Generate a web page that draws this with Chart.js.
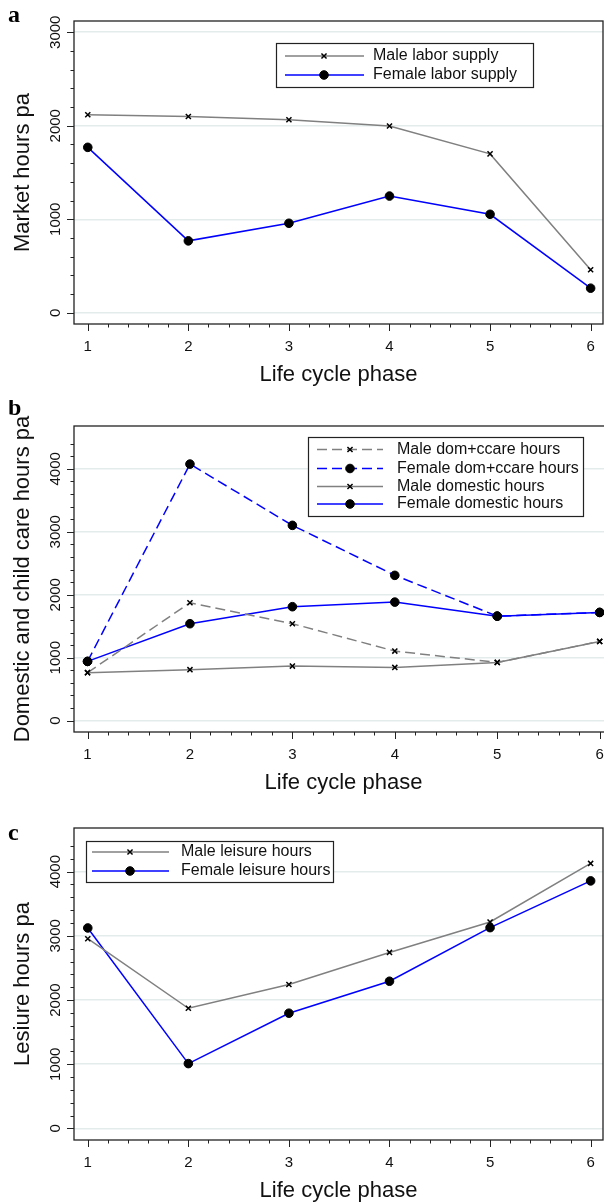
<!DOCTYPE html>
<html><head><meta charset="utf-8">
<script src="https://cdn.jsdelivr.net/npm/chart.js@4.4.1/dist/chart.umd.min.js"></script>
<style>
html,body{margin:0;padding:0;background:#fff;overflow:hidden;width:604px;height:1202px;position:relative;}
canvas{position:absolute;left:0;}
</style></head><body>
<canvas id="ca" width="604" height="400" style="top:0px;width:604px;height:400px"></canvas>
<canvas id="cb" width="620" height="400" style="top:400px;width:620px;height:400px"></canvas>
<canvas id="cc" width="604" height="402" style="top:800px;width:604px;height:402px"></canvas>
<script>
// ---- data ----
const phases = [1, 2, 3, 4, 5, 6];
const xTickLabels = ['1', '2', '3', '4', '5', '6'];
const maleLabor = [2117, 2099, 2064, 1997, 1699, 460];
const femaleLabor = [1769, 769, 957, 1248, 1053, 263];
const maleDomCcare = [762, 1873, 1540, 1105, 925, 1259];
const femaleDomCcare = [941, 4075, 3102, 2308, 1660, 1719];
const maleDomestic = [762, 810, 867, 846, 925, 1259];
const femaleDomestic = [941, 1540, 1810, 1883, 1660, 1719];
const maleLeisure = [2955, 1872, 2242, 2742, 3216, 4128];
const femaleLeisure = [3123, 1010, 1795, 2293, 3128, 3856];
const yTicksA = [0, 1000, 2000, 3000];
const yTicksB = [0, 1000, 2000, 3000, 4000];
const yTicksC = [0, 1000, 2000, 3000, 4000];

const FONT = '"Liberation Sans", Arial, Helvetica, sans-serif';
const GRAY = '#808080', BLUE = '#0000ff';

function pts(vals) { return phases.map((p, i) => ({ x: p, y: vals[i] })); }
function maleDs(label, vals, dash) {
  return { label, data: pts(vals), borderColor: GRAY, borderWidth: 1.5, borderDash: dash || [],
    pointStyle: 'crossRot', pointRadius: 3.6, pointBorderColor: '#000', pointBackgroundColor: '#000',
    pointBorderWidth: 1.5, tension: 0, fill: false };
}
function femaleDs(label, vals, dash) {
  return { label, data: pts(vals), borderColor: BLUE, borderWidth: 1.5, borderDash: dash || [],
    pointStyle: 'circle', pointRadius: 4.3, pointBorderColor: '#000', pointBackgroundColor: '#000',
    pointBorderWidth: 1, tension: 0, fill: false };
}

const rPlot = {
  id: 'rplot',
  afterDraw(chart) {
    const o = chart.options.plugins.rplot;
    const ctx = chart.ctx, a = chart.chartArea, xs = chart.scales.x, ys = chart.scales.y;
    ctx.save();
    ctx.strokeStyle = '#222'; ctx.fillStyle = '#111';
    // y ticks
    ctx.lineWidth = 1;
    const nY = Math.round(o.yMinorMax / o.yMinorStep);
    for (let k = 0; k <= nY; k++) {
      const v = k * o.yMinorStep;
      const y = Math.round(ys.getPixelForValue(v)) + 0.5;
      const major = o.yTicks.includes(v);
      ctx.beginPath(); ctx.moveTo(a.left, y); ctx.lineTo(a.left - (major ? 7 : 3.5), y); ctx.stroke();
    }
    // x ticks
    const nX = Math.round((phases[phases.length - 1] - phases[0]) / o.xMinorStep);
    for (let k = 0; k <= nX; k++) {
      const v = phases[0] + k * o.xMinorStep;
      const x = Math.round(xs.getPixelForValue(v)) + 0.5;
      const major = k % Math.round(1 / o.xMinorStep) === 0;
      ctx.beginPath(); ctx.moveTo(x, a.bottom); ctx.lineTo(x, a.bottom + (major ? 7 : 3.5)); ctx.stroke();
    }
    // frame
    ctx.lineWidth = 1.3;
    ctx.strokeRect(a.left, a.top, a.right - a.left, a.bottom - a.top);
    // y tick labels
    ctx.font = '15px ' + FONT; ctx.textAlign = 'center'; ctx.textBaseline = 'alphabetic';
    o.yTicks.forEach(v => {
      ctx.save(); ctx.translate(60, ys.getPixelForValue(v)); ctx.rotate(-Math.PI / 2);
      ctx.fillText(String(v), 0, 0); ctx.restore();
    });
    // x tick labels
    ctx.textBaseline = 'middle';
    phases.forEach((p, i) => ctx.fillText(xTickLabels[i], xs.getPixelForValue(p), a.bottom + 23));
    // axis titles
    ctx.font = '22px ' + FONT;
    ctx.fillText(o.xTitle, (a.left + a.right) / 2, a.bottom + 51);
    ctx.save(); ctx.translate(28.5, (a.top + a.bottom) / 2); ctx.rotate(-Math.PI / 2);
    ctx.textBaseline = 'alphabetic'; ctx.fillText(o.yTitle, 0, 0); ctx.restore();
    // panel letter
    ctx.font = 'bold 24px "Liberation Serif", "Times New Roman", serif';
    ctx.textAlign = 'left'; ctx.textBaseline = 'alphabetic'; ctx.fillStyle = '#000';
    ctx.fillText(o.letter, 8, o.letterY);
    // legend
    const L = o.legend;
    ctx.fillStyle = '#fff';
    ctx.fillRect(L.box[0], L.box[1], L.box[2] - L.box[0], L.box[3] - L.box[1]);
    ctx.strokeStyle = '#222'; ctx.lineWidth = 1.2;
    ctx.strokeRect(L.box[0] + 0.5, L.box[1] + 0.5, L.box[2] - L.box[0], L.box[3] - L.box[1]);
    L.order.forEach((di, r) => {
      const ds = chart.data.datasets[di];
      const y = L.rows[r];
      ctx.strokeStyle = ds.borderColor; ctx.lineWidth = ds.borderWidth;
      ctx.setLineDash(ds.borderDash || []);
      ctx.beginPath(); ctx.moveTo(L.line[0], y); ctx.lineTo(L.line[1], y); ctx.stroke();
      ctx.setLineDash([]);
      ctx.strokeStyle = '#000'; ctx.fillStyle = '#000'; ctx.lineWidth = ds.pointBorderWidth;
      Chart.helpers.drawPoint(ctx, { pointStyle: ds.pointStyle, radius: ds.pointRadius, rotation: 0,
        borderWidth: ds.pointBorderWidth }, L.marker, y);
      ctx.fillStyle = '#111'; ctx.font = '16px ' + FONT; ctx.textAlign = 'left'; ctx.textBaseline = 'middle';
      ctx.fillText(ds.label, L.text, y);
    });
    ctx.restore();
  }
};

function makePanel(id, datasets, opt) {
  return new Chart(document.getElementById(id), {
    type: 'line',
    data: { datasets },
    options: {
      responsive: false, animation: false, devicePixelRatio: 1,
      layout: { padding: opt.padding, autoPadding: false },
      plugins: { legend: { display: false }, tooltip: { enabled: false },
        rplot: { yTicks: opt.yTicks, yMinorStep: 200, yMinorMax: opt.yMinorMax, xMinorStep: 0.2,
          xTitle: 'Life cycle phase', yTitle: opt.yTitle, letter: opt.letter, letterY: opt.letterY,
          legend: opt.legend } },
      scales: {
        x: { type: 'linear', min: opt.xMin, max: opt.xMax, display: false },
        y: { type: 'linear', min: opt.yMin, max: opt.yMax, display: true,
          afterBuildTicks: s => { s.ticks = opt.yTicks.map(v => ({ value: v })); },
          ticks: { display: false },
          grid: { color: '#e3ebeb', lineWidth: 1.5, drawTicks: false },
          border: { display: false } }
      }
    },
    plugins: [rPlot]
  });
}

makePanel('ca', [
  maleDs('Male labor supply', maleLabor),
  femaleDs('Female labor supply', femaleLabor)
], { padding: { left: 74, top: 21, right: 1, bottom: 76 }, xMin: 0.863, xMax: 6.123,
  yMin: -120, yMax: 3120, yTicks: yTicksA, yMinorMax: 3000, yTitle: 'Market hours pa',
  letter: 'a', letterY: 22,
  legend: { box: [276, 43, 533, 87], rows: [56, 75], line: [285, 364], marker: 324, text: 373, order: [0, 1] } });

makePanel('cb', [
  maleDs('Male dom+ccare hours', maleDomCcare, [10, 5]),
  femaleDs('Female dom+ccare hours', femaleDomCcare, [10, 5]),
  maleDs('Male domestic hours', maleDomestic),
  femaleDs('Female domestic hours', femaleDomestic)
], { padding: { left: 74, top: 26, right: 7, bottom: 68 }, xMin: 0.868, xMax: 6.13,
  yMin: -180, yMax: 4680, yTicks: yTicksB, yMinorMax: 4400, yTitle: 'Domestic and child care hours pa',
  letter: 'b', letterY: 15,
  legend: { box: [308, 37, 583, 116], rows: [49.5, 68.5, 86.5, 104], line: [317, 383], marker: 350, text: 397, order: [0, 1, 2, 3] } });

makePanel('cc', [
  maleDs('Male leisure hours', maleLeisure),
  femaleDs('Female leisure hours', femaleLeisure)
], { padding: { left: 74, top: 28, right: 1, bottom: 62 }, xMin: 0.863, xMax: 6.123,
  yMin: -180, yMax: 4680, yTicks: yTicksC, yMinorMax: 4400, yTitle: 'Lesiure hours pa',
  letter: 'c', letterY: 40,
  legend: { box: [86, 41, 333, 82], rows: [52, 71], line: [92, 169], marker: 130, text: 181, order: [0, 1] } });
</script>
</body></html>
